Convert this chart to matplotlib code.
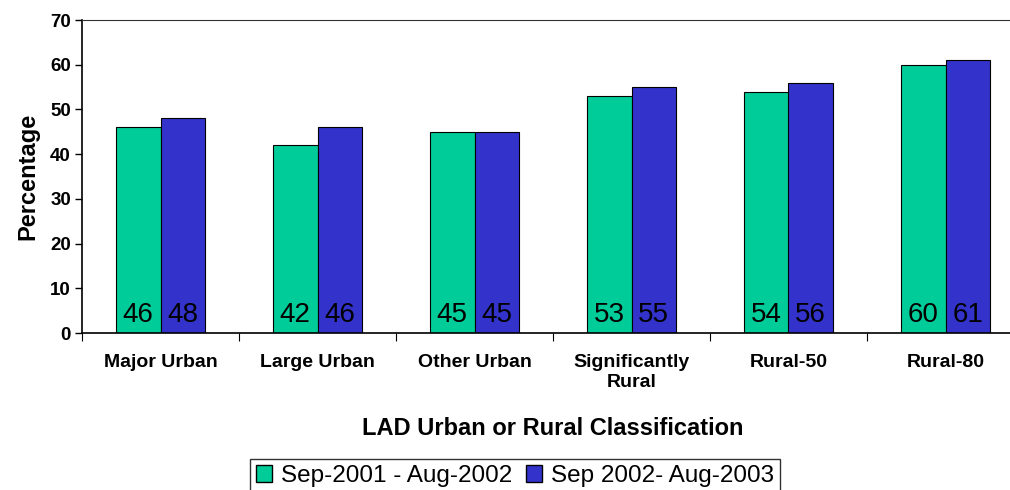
import numpy as np
import matplotlib
matplotlib.use("Agg")
import matplotlib.pyplot as plt
from matplotlib.patches import Patch

categories = ["Major Urban", "Large Urban", "Other Urban", "Significantly\nRural", "Rural-50", "Rural-80"]
period1 = [46, 42, 45, 53, 54, 60]
period2 = [48, 46, 45, 55, 56, 61]
series_names = ["Sep-2001 - Aug-2002", "Sep 2002- Aug-2003"]
colors = ["#00CC99", "#3333CC"]

plt.rcParams['font.family'] = ['Liberation Sans', 'DejaVu Sans']

fig = plt.figure(figsize=(10.1, 4.9), dpi=100)
# axes run a bit past the right edge of the figure, as in the reference
ax = fig.add_axes([82/1010, 157/490, 942/1010, 313/490])

x = np.arange(len(categories))
w = 0.283
b1 = ax.bar(x - w/2, period1, w, color=colors[0], edgecolor="black", linewidth=0.8)
b2 = ax.bar(x + w/2, period2, w, color=colors[1], edgecolor="black", linewidth=0.8)

# value labels near the base of each bar
for bars, vals in ((b1, period1), (b2, period2)):
    for r, v in zip(bars, vals):
        ax.text(r.get_x() + r.get_width()/2, 1.2, str(v), ha="center", va="bottom",
                fontsize=20, color="black")

ax.set_xlim(-0.5, len(categories) - 0.5)
ax.set_ylim(0, 70)
ax.set_yticks(range(0, 71, 10))
ax.tick_params(axis="y", direction="out", length=5, width=1, labelsize=13.5, pad=3)
for lbl in ax.get_yticklabels():
    lbl.set_fontweight("bold")

# x ticks at category boundaries, labels at centres
ax.set_xticks(np.arange(len(categories) + 1) - 0.5)
ax.set_xticklabels([])
ax.tick_params(axis="x", direction="out", length=6, width=0.8)
for i, c in enumerate(categories):
    ax.text(i, -4.6, c, ha="center", va="top", fontsize=14, fontweight="bold",
            transform=ax.transData, linespacing=1.25)

ax.spines["right"].set_visible(False)
ax.spines["top"].set_color("#333333")
ax.spines["top"].set_linewidth(0.8)
ax.spines["left"].set_linewidth(1.2)
ax.spines["bottom"].set_linewidth(1.2)

ax.set_ylabel("Percentage", fontsize=17, fontweight="bold", labelpad=8)
fig.text(553/1010, 1 - 428/490, "LAD Urban or Rural Classification", ha="center", va="center",
         fontsize=17, fontweight="bold")

handles = [Patch(facecolor=colors[0], edgecolor="black"), Patch(facecolor=colors[1], edgecolor="black")]
leg = fig.legend(handles, series_names, loc="center", bbox_to_anchor=(515/1010, 1 - 476/490),
                 ncol=2, fontsize=17.5, frameon=True, fancybox=False, edgecolor="black",
                 handlelength=0.65, handleheight=0.65, handletextpad=0.35, columnspacing=0.6,
                 borderpad=0.25, borderaxespad=0)
leg.get_frame().set_linewidth(1.0)

fig.savefig("out.png", dpi=100)
